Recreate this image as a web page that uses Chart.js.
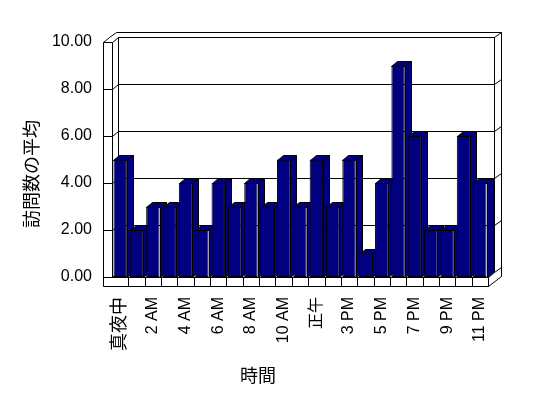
<!DOCTYPE html>
<html><head><meta charset="utf-8">
<script src="https://cdn.jsdelivr.net/npm/chart.js@4/dist/chart.umd.min.js"></script>
<style>html,body{margin:0;padding:0;background:#fff;}canvas{display:block;}</style>
</head><body>
<canvas id="c" width="548" height="398"></canvas>
<script>
// ---- data ----
const categories = ['真夜中','1 AM','2 AM','3 AM','4 AM','5 AM','6 AM','7 AM','8 AM','9 AM','10 AM','11 AM',
  '正午','2 PM','3 PM','4 PM','5 PM','6 PM','7 PM','8 PM','9 PM','10 PM','11 PM'];
const visitAverage = [5,2,3,3,4,2,4,3,4,3,5,3,5,3,5,1,4,9,6,2,2,6,4];
const yTickValues = [0,2,4,6,8,10];
const xAxisTitle = '時間';
const yAxisTitle = '訪問数の平均';

const FONT = "'Liberation Sans', 'Noto Sans CJK JP', sans-serif";
const JFONT = "'Noto Sans CJK JP', sans-serif";
const NAVY = '#000080';
const DX = 6, DY = -5;     // depth of bars / walls
const TX = 7, TY = -5;     // wall slab thickness
const WALL = 9, FLOOR = 9; // left wall and floor thickness

function pl(ctx, pts, close, fill) {
  ctx.beginPath();
  pts.forEach((p, i) => {
    const px = Math.round(p[0]) + 0.5, py = Math.round(p[1]) + 0.5;
    if (i) ctx.lineTo(px, py); else ctx.moveTo(px, py);
  });
  if (close) ctx.closePath();
  if (fill) { ctx.fillStyle = fill; ctx.fill(); }
  ctx.stroke();
}

const scene3d = {
  id: 'scene3d',
  beforeDraw(chart) {
    const ctx = chart.ctx;
    ctx.save(); ctx.fillStyle = '#fff'; ctx.fillRect(0, 0, chart.width, chart.height); ctx.restore();
  },
  beforeDatasetsDraw(chart) {
    const ctx = chart.ctx, x = chart.scales.x, y = chart.scales.y;
    const L = chart.chartArea.left, R = chart.chartArea.right;
    const T = y.getPixelForValue(yTickValues[yTickValues.length - 1]);
    const B = y.getPixelForValue(yTickValues[0]);
    ctx.save();
    ctx.strokeStyle = '#000'; ctx.lineWidth = 1;
    const bl = L + DX, br = R + DX;
    // back wall outer slab
    pl(ctx, [[L - WALL + DX, T + DY], [L - WALL + DX + TX, T + DY + TY], [br + TX, T + DY + TY], [br + TX, B + FLOOR + 2*DY], [R, B + FLOOR]]);
    // back wall inner plane
    pl(ctx, [[bl, B + DY], [bl, T + DY], [br, T + DY], [br, B + DY]]);
    // gridlines on back wall and ticks on walls
    yTickValues.forEach(v => {
      const py = y.getPixelForValue(v);
      if (v !== yTickValues[0]) pl(ctx, [[bl, py + DY], [br, py + DY]]);
      pl(ctx, [[br, py + DY], [br + TX, py + DY + TY]]);
      pl(ctx, [[L - WALL, py], [L, py], [bl, py + DY]]);
    });
    // left wall
    pl(ctx, [[L - WALL, B + FLOOR], [L - WALL, T], [L, T]]);
    pl(ctx, [[L - WALL, T], [L - WALL + DX, T + DY]]);
    pl(ctx, [[L, B], [L, T]]);
    // floor
    pl(ctx, [[L - WALL, B], [R, B], [R, B + FLOOR], [L - WALL, B + FLOOR]]);
    pl(ctx, [[R, B], [br, B + DY]]);
    const n = categories.length, cw = (R - L) / n;
    for (let i = 1; i < n; i++) pl(ctx, [[L + i * cw, B], [L + i * cw, B + FLOOR]]);
    // bar side and top faces
    chart.getDatasetMeta(0).data.forEach(bar => {
      const p = bar.getProps(['x', 'y', 'base', 'width'], true);
      const l = p.x - p.width / 2, r = p.x + p.width / 2, t = p.y, b = p.base;
      pl(ctx, [[r, t], [r + DX, t + DY], [r + DX, b + DY], [r, b]], true, NAVY);
      pl(ctx, [[l, t], [l + DX, t + DY], [r + DX, t + DY], [r, t]], true, NAVY);
    });
    ctx.restore();
  },
  afterDraw(chart) {
    const ctx = chart.ctx;
    ctx.save();
    ctx.fillStyle = '#000';
    ctx.font = '18px ' + JFONT;
    ctx.textAlign = 'center'; ctx.textBaseline = 'middle';
    ctx.fillText(xAxisTitle, 258, 375);
    ctx.translate(31, 174); ctx.rotate(-Math.PI / 2);
    ctx.fillText(yAxisTitle, 0, 0);
    ctx.restore();
  }
};

new Chart(document.getElementById('c'), {
  type: 'bar',
  data: {
    labels: categories,
    datasets: [{
      label: yAxisTitle,
      data: visitAverage,
      backgroundColor: NAVY,
      borderColor: '#000',
      borderWidth: 1,
      borderSkipped: false,
      barPercentage: 0.82,
      categoryPercentage: 1
    }]
  },
  options: {
    responsive: false,
    animation: false,
    devicePixelRatio: 1,
    layout: { padding: { left: 0, top: 42, right: 60, bottom: 0 } },
    plugins: { legend: { display: false }, tooltip: { enabled: false } },
    scales: {
      x: {
        offset: true,
        grid: { display: false, drawTicks: false },
        border: { display: false },
        ticks: {
          autoSkip: false, minRotation: 90, maxRotation: 90, padding: 20, color: '#000',
          font: c => ({ family: FONT, size: /[^\x00-\x7f]/.test(categories[c.index] || '') ? 18 : 16 }),
          callback: (v, i) => (i % 2 === 0 ? categories[i] : null)
        },
        afterFit: s => { s.height = 121; }
      },
      y: {
        min: yTickValues[0], max: yTickValues[yTickValues.length - 1],
        grid: { display: false, drawTicks: false },
        border: { display: false },
        ticks: {
          stepSize: 2, padding: 20, color: '#000',
          font: { family: FONT, size: 16 },
          callback: v => Number(v).toFixed(2)
        },
        afterFit: s => { s.width = 112; }
      }
    }
  },
  plugins: [scene3d]
});
</script>
</body></html>
